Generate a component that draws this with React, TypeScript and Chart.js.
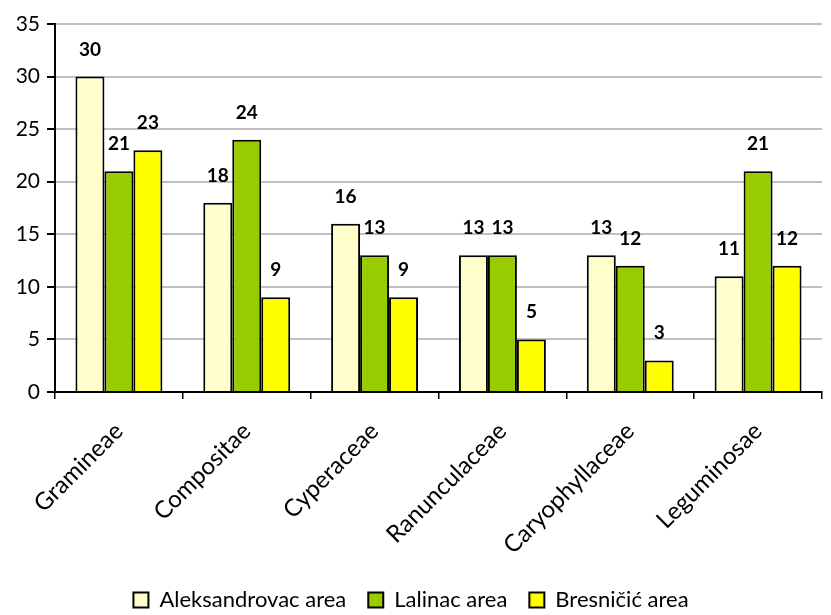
import React, { useEffect, useRef } from "react";
import { Chart, registerables } from "chart.js";

Chart.register(...registerables);

const categories = ["Gramineae", "Compositae", "Cyperaceae", "Ranunculaceae", "Caryophyllaceae", "Leguminosae"];
const aleksandrovac = [30, 18, 16, 13, 13, 11];
const lalinac = [21, 24, 13, 13, 12, 21];
const bresnicic = [23, 9, 9, 5, 3, 12];
const seriesNames = ["Aleksandrovac area", "Lalinac area", "Bresničić area"];
const seriesColors = ["#FFFFCC", "#99CC00", "#FFFF00"];
const yTicks = [0, 5, 10, 15, 20, 25, 30, 35];

const FONT = "Lato, 'Liberation Sans', sans-serif";

const labelPlugin = {
  id: "barLabels",
  afterDatasetsDraw(chart: any) {
    const ctx = chart.ctx;
    ctx.save();
    ctx.font = `bold 19px ${FONT}`;
    ctx.fillStyle = "#000";
    ctx.textAlign = "center";
    ctx.textBaseline = "alphabetic";
    chart.data.datasets.forEach((ds: any, di: number) => {
      const meta = chart.getDatasetMeta(di);
      meta.data.forEach((bar: any, i: number) => {
        ctx.fillText(String(ds.data[i]), bar.x, bar.y - 21);
      });
    });
    ctx.restore();
  },
};

export default function App() {
  const ref = useRef<HTMLCanvasElement>(null);
  useEffect(() => {
    document.body.style.margin = "0";
    const chart = new Chart(ref.current!, {
      type: "bar",
      data: {
        labels: categories,
        datasets: [aleksandrovac, lalinac, bresnicic].map((d, i) => ({
          label: seriesNames[i],
          data: d,
          backgroundColor: seriesColors[i],
          borderColor: "#000",
          borderWidth: 2,
          categoryPercentage: 0.68,
          barPercentage: 1,
        })),
      },
      options: {
        animation: false,
        responsive: false,
        maintainAspectRatio: false,
        layout: { padding: { top: 24, right: 9, left: 0, bottom: -6 } },
        plugins: {
          tooltip: { enabled: false },
          legend: {
            position: "bottom",
            labels: {
              font: { family: FONT, size: 22 },
              color: "#000",
              boxWidth: 15,
              boxHeight: 15,
              padding: 22,
            },
          },
        },
        scales: {
          x: {
            grid: {
              offset: true,
              drawOnChartArea: false,
              tickLength: 7,
              color: "#000",
              lineWidth: 1.5,
            },
            border: { color: "#000", width: 2 },
            ticks: {
              font: { family: FONT, size: 24 },
              color: "#000",
              minRotation: 45,
              maxRotation: 45,
              padding: 18,
            },
            afterFit(scale: any) {
              scale.height = 175;
            },
          },
          y: {
            min: 0,
            max: 35,
            afterBuildTicks(scale: any) {
              scale.ticks = yTicks.map((v) => ({ value: v }));
            },
            grid: {
              color: "#C0C0C0",
              lineWidth: 2,
              tickColor: "#000",
              tickLength: 8,
            },
            border: { color: "#000", width: 2 },
            ticks: {
              font: { family: FONT, size: 21 },
              color: "#000",
              padding: 7,
            },
            afterFit(scale: any) {
              scale.width = 55;
            },
          },
        },
      },
      plugins: [labelPlugin],
    });
    return () => chart.destroy();
  }, []);
  return (
    <div style={{ width: 831, height: 615 }}>
      <canvas ref={ref} width={831} height={615} style={{ width: 831, height: 615 }} />
    </div>
  );
}
